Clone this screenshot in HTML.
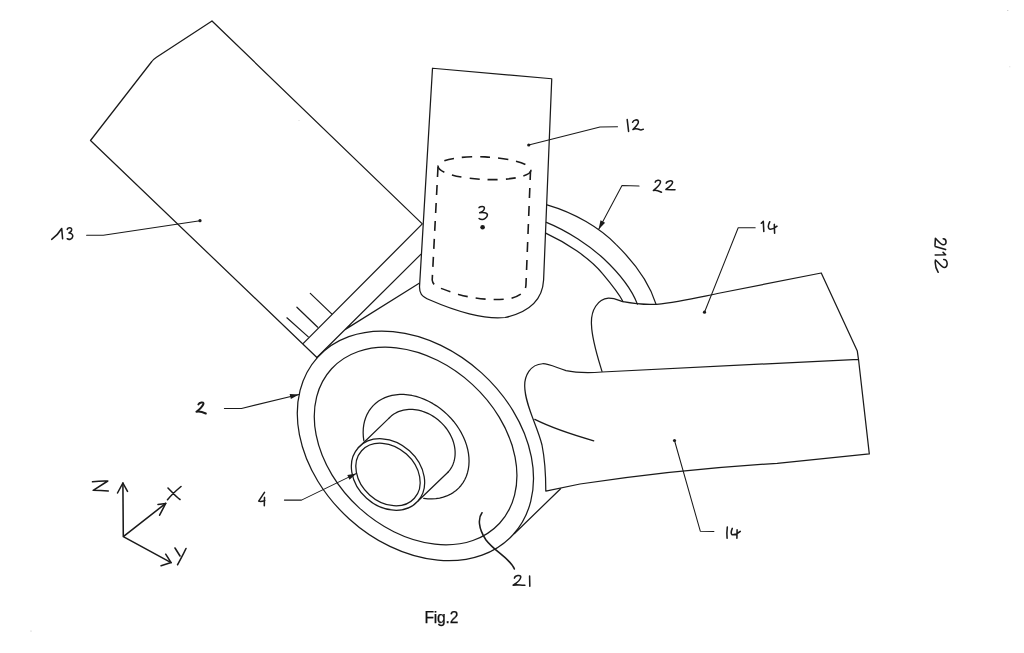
<!DOCTYPE html>
<html><head><meta charset="utf-8"><style>
html,body{margin:0;padding:0;background:#fff;font-family:"Liberation Sans",sans-serif;}
svg{display:block;}
svg path, svg ellipse{fill:none;stroke:#1a1a1a;stroke-width:1.25;stroke-linejoin:round;stroke-linecap:round;}
svg .t{stroke-width:1.05;}
svg .h{stroke-width:1.55;} svg .hb{stroke-width:2;}
svg .f{fill:#1a1a1a;stroke:none;}
svg .d path, svg .d ellipse{stroke-width:1.6;stroke-dasharray:10 8;stroke-linecap:butt;}
</style></head><body>
<div style="position:relative;width:1024px;height:653px;overflow:hidden;background:#fff;filter:grayscale(1)">
<svg width="1024" height="653" viewBox="0 0 1024 653">
<path d="M212,21 L156.5,57.2 Q153.5,59.2 151.8,61.5 L90.5,140.5 L316.9,357.5 M212,21 L422.3,223.9 L302.8,343.9"/>
<path d="M420.8,254.4 L316.9,357.5 M419.2,283.3 L345,329.6"/>
<path d="M310.3,293.4 L331.7,313.9 M296.9,307.2 L317.7,327.2 M286.9,317.8 L308.3,336.9"/>
<path d="M432.5,68.25 L551.75,78.75 L543.6,280 C542.5,300 530,312 505,317.5 C485,320 455,311 430,300 C421,296 419.5,293 419.5,287 L432.5,68.25 Z"/>
<g class="d"><ellipse cx="484.5" cy="168.2" rx="46.5" ry="11.3" transform="rotate(2.5 484.5 168.2)"/><path d="M438,167 L432.2,280 C433,287 440,288 458.6,294.4 C475,299 495,301 511.3,298.3 C522,295 526,291 526,284 L530.5,171"/></g>
<path d="M547,204.9 C575,213 600,228 616.2,244.6 C635,263 650,285 656,304.1"/>
<path d="M546.4,222.3 C568,231 590,246 603.5,258.5 C620,274 632,290 637.4,304.1"/>
<path d="M545.7,233.1 C565,242 590,258 602.5,273.7 C612,285 619,294 623.1,301.7"/>
<path d="M602,371.4 C597,355 592,340 591.5,325 C590.5,310 598,299 608.4,298.2 C615,298 620,301 623.1,301.7 C635,304 645,305 656.5,304.3 C680,302 700,297 720,293 L821.25,273 L857.3,351.1 L858.5,359.3"/>
<path d="M858.5,359.3 L602,372 C590,372.8 575,372.5 566,370.6 C555,367 548,363.5 542.6,363.75 C530,364.5 524.5,376 524.7,386.25 C525,405 537,425 542,445 C545,460 545.8,475 545.8,491.1 L580,484 C640,475 700,468 777.2,463.3 L869.3,453.9 L858.5,359.3"/>
<path d="M534.8,419.4 C550,427 570,434 593.75,440.8"/>
<path d="M560.6,488.75 L514.5,533.5"/>
<ellipse cx="415.4" cy="445.9" rx="132.0" ry="98.55" transform="rotate(42.16 415.4 445.9)"/>
<ellipse cx="415.6" cy="446.0" rx="114.1" ry="83.74" transform="rotate(42.59 415.6 446.0)"/>
<path d="M363.84,440.68 L363.32,436.61 L363.14,432.60 L363.28,428.68 L363.76,424.87 L364.55,421.20 L365.67,417.69 L367.10,414.36 L368.84,411.23 L370.86,408.32 L373.17,405.64 L375.75,403.22 L378.58,401.08 L381.64,399.21 L384.91,397.64 L388.38,396.38 L392.02,395.43 L395.81,394.79 L399.72,394.48 L403.74,394.49 L407.83,394.83 L411.98,395.49 L416.15,396.47 L420.32,397.76 L424.46,399.35 L428.56,401.24 L432.57,403.41 L436.48,405.85 L440.27,408.54 L443.91,411.47 L447.37,414.62 L450.64,417.96 L453.69,421.49 L456.51,425.17 L459.08,428.99 L461.39,432.92 L463.41,436.93 L465.14,441.00 L466.56,445.11 L467.67,449.23 L468.46,453.33 L468.92,457.39 L469.06,461.38 L468.87,465.29 L468.35,469.08 L467.50,472.73 L466.34,476.21 L464.86,479.52 L463.08,482.62 L461.01,485.49 L458.66,488.13 L456.05,490.51 L453.19,492.62 L450.09,494.44 L446.79,495.96 L443.29,497.18 L439.63,498.09 L435.82,498.68 L431.89,498.94 L427.86,498.88 L423.76,498.49"/>
<path d="M388.77,418.43 L389.94,417.23 L391.18,416.10 L392.49,415.04 L393.88,414.08 L395.33,413.19 L396.85,412.40 L398.42,411.69 L400.05,411.08 L401.74,410.56 L403.46,410.13 L405.23,409.80 L407.04,409.57 L408.87,409.43 L410.74,409.40 L412.62,409.46 L414.52,409.62 L416.43,409.88 L418.35,410.23 L420.27,410.68 L422.18,411.22 L424.08,411.86 L425.97,412.59 L427.84,413.41 L429.68,414.31 L431.49,415.30 L433.26,416.37 L435.00,417.53 L436.69,418.75 L438.33,420.05 L439.91,421.42 L441.44,422.85 L442.90,424.35 L444.30,425.90 L445.62,427.50 L446.88,429.16 L448.05,430.85 L449.14,432.59 L450.15,434.36 L451.07,436.16 L451.91,437.99 L452.65,439.83 L453.30,441.69 L453.85,443.56 L454.30,445.44 L454.66,447.31 L454.92,449.18 L455.08,451.03 L455.13,452.88 L455.09,454.70 L454.95,456.49 L454.71,458.25 L454.36,459.98 L453.92,461.67 L453.39,463.31 L452.75,464.90 L452.03,466.44 L451.21,467.92 L450.30,469.33 L449.31,470.68 L448.23,471.97"/>
<path d="M358.3,447.7 L388.8,418.4 M417.7,501.3 L448.2,472"/>
<ellipse cx="388" cy="474.5" rx="40" ry="32" transform="rotate(42 388 474.5)" style="fill:#fff"/>
<ellipse cx="388" cy="474.5" rx="35.5" ry="27.5" transform="rotate(42 388 474.5)"/>
<path class="t" d="M86.6,235.2 L103.3,235.2 L200,220.7"/><circle class="f" cx="200" cy="220.7" r="1.6"/>
<path class="t" d="M617.5,126.75 L600,127 L528.75,145"/><circle class="f" cx="528.75" cy="145" r="1.6"/>
<circle class="f" cx="482.6" cy="227.3" r="2.3"/>
<path class="t" d="M639,186.1 L622,185.6 L598.6,229.5"/><path class="f" d="M598.6,229.5 L600.5,220.3 L605.1,222.8 Z"/>
<path class="t" d="M755.2,227.8 L738.2,227.8 L704.5,312.2"/><circle class="f" cx="704.5" cy="312.2" r="1.6"/>
<path class="t" d="M713.9,531.5 L700.3,531.2 L674.5,440.5"/><circle class="f" cx="674.5" cy="440.5" r="1.6"/>
<path class="t" d="M224.4,408.4 L241.5,408.4 L299,394.4"/><path class="f" d="M299.0,394.4 L290.9,399.1 L289.6,394.0 Z"/>
<path class="t" d="M284.4,500.1 L301.5,500.1 L356.5,473.4"/><path class="f" d="M356.5,473.4 L349.5,479.7 L347.3,475.0 Z"/>
<path class="h" d="M482,512.7 C478,518 478,528 486,540 C495,552 510,558 514.4,569"/>
<path class="h" d="M122.9,483 L123.3,536.6 L165.7,503.4 M123.3,536.6 L171.1,562.6"/>
<path class="h" d="M117.5,493 L122.9,483 L127.5,491.4 M158,504.4 L165.7,503.4 L159.6,515.2 M165.7,554.2 L171.1,562.6 L161.1,565.7"/>
<path class="h" d="M51.7,239.4 C55,237 59,233 61.7,228.5 L62.6,238.7 M67.2,229.4 C68,227.3 71.8,227 71.7,229.9 C71.6,231.6 69.5,232.6 68.9,232.9 C71,233 73.2,234.5 72.7,236.6 C72.2,239.3 68.8,240 67.2,238.7"/>
<path class="h" d="M627.2,119.6 L628.6,131.4 M632.6,122.2 C633.5,120 637.8,118.6 638.4,121.7 C638.7,124.2 635,127.6 632.9,129.5 C635,128 637.5,128.6 640.2,129.8 C641.5,130.2 642.5,129.5 643.3,129.2"/>
<path class="h" d="M479.1,207.6 C480.2,206.3 484.6,205.6 484.4,208.2 C484.2,210.5 481,212.3 479.7,212.8 C483,212 487.6,212.8 487.4,215 C487.2,218 483.5,219.7 482.1,219.5 C480.8,219.5 479.6,219 479.1,218.5"/>
<path class="h" d="M655.2,182.2 C655.6,180.2 660.6,179.2 660.5,182 C660.3,185 655.5,188.8 653.4,190.5 C656.5,189.6 659,191 661.5,192.2 M666.2,183.2 C666.6,181 672.6,179.6 672.6,182.2 C672.4,185 667.6,188.2 665.9,189.5 C669,189.6 672,189.7 675,189.7"/>
<path class="h" d="M761.3,223.3 L763.3,221.4 L763.8,231.5 M769.7,221.8 C768.6,224 767.5,227.5 769.5,229.1 C771.5,229.4 775,228 777,226.2 M774.3,224.4 L774.6,233.2"/>
<path class="h" d="M727.3,527.1 C726.8,531 726.8,535 727.1,538.2 M732.3,528.4 C731.4,530.5 730.4,533.5 732.2,534.8 C734.5,535 738,533.5 740.3,531.4 M737.1,529.8 L736.9,538.2"/>
<path class="h" d="M514.4,578.1 C515,575.5 520.8,574.3 520.8,577 C520.5,579.8 516,583.5 513.1,585.2 C517,584.2 521,585.5 524.9,585.2 M529.6,576.1 L529.8,586.2"/>
<path class="hb" d="M198.4,404.4 C199.5,402.2 203.8,401.5 203.5,403.8 C203,406 199.2,410 196.4,411.8 C199.5,411 202.5,412 205.8,413.5"/>
<path class="h" d="M264.5,492.4 L258.7,501.1 C260,501.8 262.5,501.4 264.8,500.5 M264.5,497.4 L264.3,505.8"/>
<path class="h" d="M92.5,481.8 C97,481.2 103,480.8 107.8,481 L93.2,490.3 C98,490.3 103,490.5 108.3,491 M168,488 C172,492 176,497 180,499.5 M181,486.5 C178,489 172,494 167.5,499.8 M175,548 L180,556 M186,548.5 C183,555 180,560 177.5,564.8"/>
<path class="h" d="M0.8,-8 C1,-11.8 7,-11.8 6.8,-8 C6.6,-5.5 2.5,-2.5 0.3,-0.2 L7.4,0.2 M8.4,0 L11.6,-10.4 M14.4,-7.9 L16.8,-10.4 L16.9,0 M21.5,-8.5 C21.5,-12.8 29.5,-13.2 29.5,-9 C29.5,-6.5 25,-4 22,-0.3 C26,0.5 31,-1 34.3,-3" transform="translate(935.2,238) rotate(90)"/>
<text x="424.4" y="622.6" style="font-size:15.6px;font-family:'Liberation Sans',sans-serif;letter-spacing:-0.15px;fill:#111;stroke:#111;stroke-width:0.25">Fig.2</text><circle cx="1007.8" cy="10.5" r="0.6" style="fill:#bbb"/><circle cx="1009.8" cy="66.8" r="0.5" style="fill:#ccc"/><circle cx="31" cy="631" r="0.6" style="fill:#bbb"/><circle cx="299" cy="120.5" r="0.5" style="fill:#ccc"/>
</svg>
</div>
</body></html>
